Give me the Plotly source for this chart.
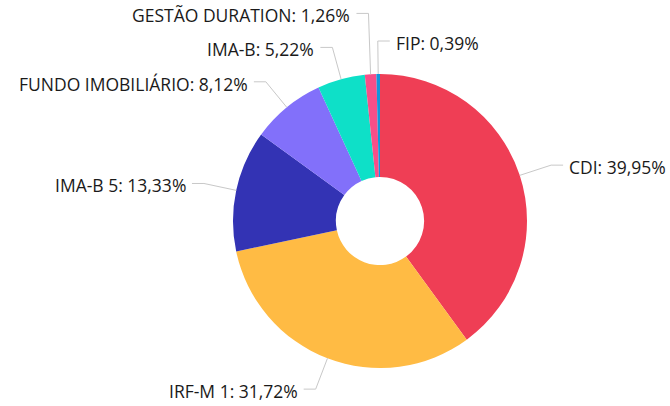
import math
import plotly.graph_objects as go

# ── Data ──────────────────────────────────────────────────────────────────────

LABELS = ["CDI", "IRF-M 1", "IMA-B 5", "FUNDO IMOBILIÁRIO", "IMA-B", "GESTÃO DURATION", "FIP"]
SHARES = [39.95, 31.72, 13.33, 8.12, 5.22, 1.26, 0.39]

# ── Style / layout ────────────────────────────────────────────────────────────

COLORS = ["#EF3E55", "#FFBB44", "#3333B4", "#8270FA", "#0EE0C8", "#F74F88", "#1296DB"]
LINE_COLOR = "#C8C8C8"
FONT_COLOR = "#1A1A1A"
FONT = "Open Sans"
FONT_SIZE = 17.5

W, H = 670, 406
CX, CY, R = 380, 221, 147      # pie centre / outer radius in px
HOLE = 0.30
LEN1, LEN2 = 33, 12            # leader line segments
GAP = 5                        # line end -> text
MIN_SEP = 34                   # vertical spacing between labels on one side
TEXT_DY = 2


def px(x):
    return x / W


def py(y):
    return 1 - y / H


# ── Label geometry (from slice angles) ────────────────────────────────────────

total = sum(SHARES)
labels = []
acc = 0.0
for name, val in zip(LABELS, SHARES):
    mid = (acc + val / 2) / total * 2 * math.pi   # clockwise from 12 o'clock
    acc += val
    s, c = math.sin(mid), math.cos(mid)
    labels.append(dict(
        text=f"{name}: {val:.2f}%".replace(".", ","),
        x0=CX + R * s, y0=CY - R * c,
        x1=CX + (R + LEN1) * s, y1=CY - (R + LEN1) * c,
        side="right" if s >= -0.02 else "left",
    ))

# push overlapping labels apart (upwards) on each side
for side in ("left", "right"):
    group = sorted([l for l in labels if l["side"] == side], key=lambda l: l["y1"])
    for i in range(len(group) - 2, -1, -1):
        if group[i + 1]["y1"] - group[i]["y1"] < MIN_SEP:
            group[i]["y1"] = group[i + 1]["y1"] - MIN_SEP

fig = go.Figure(go.Pie(
    labels=LABELS,
    values=SHARES,
    sort=False,
    direction="clockwise",
    rotation=0,
    hole=HOLE,
    textinfo="none",
    marker=dict(colors=COLORS, line=dict(width=0)),
    domain=dict(x=[px(CX - R), px(CX + R)], y=[py(CY + R), py(CY - R)]),
    hovertemplate="<b>%{label}</b><br>%{value:.2f}%<extra></extra>",
))

shapes, annotations = [], []
for l in labels:
    d = 1 if l["side"] == "right" else -1
    x2 = l["x1"] + d * LEN2
    shapes.append(dict(
        type="path", xref="paper", yref="paper",
        path=f"M {px(l['x0'])},{py(l['y0'])} L {px(l['x1'])},{py(l['y1'])} L {px(x2)},{py(l['y1'])}",
        line=dict(color=LINE_COLOR, width=1),
    ))
    annotations.append(dict(
        text=l["text"], xref="paper", yref="paper",
        x=px(x2 + d * GAP), y=py(l["y1"] + TEXT_DY),
        xanchor="left" if d == 1 else "right", yanchor="middle",
        showarrow=False, borderpad=0,
        font=dict(family=FONT, size=FONT_SIZE, color=FONT_COLOR),
    ))

fig.update_layout(
    width=W, height=H,
    margin=dict(l=0, r=0, t=0, b=0),
    paper_bgcolor="white",
    plot_bgcolor="white",
    showlegend=False,
    shapes=shapes,
    annotations=annotations,
)

# page body has a default 8px margin – drop it so the figure sits at 0,0
fig.write_html(
    "out.html",
    config={"displayModeBar": False},
    post_script="document.body.style.margin='0px';",
)
